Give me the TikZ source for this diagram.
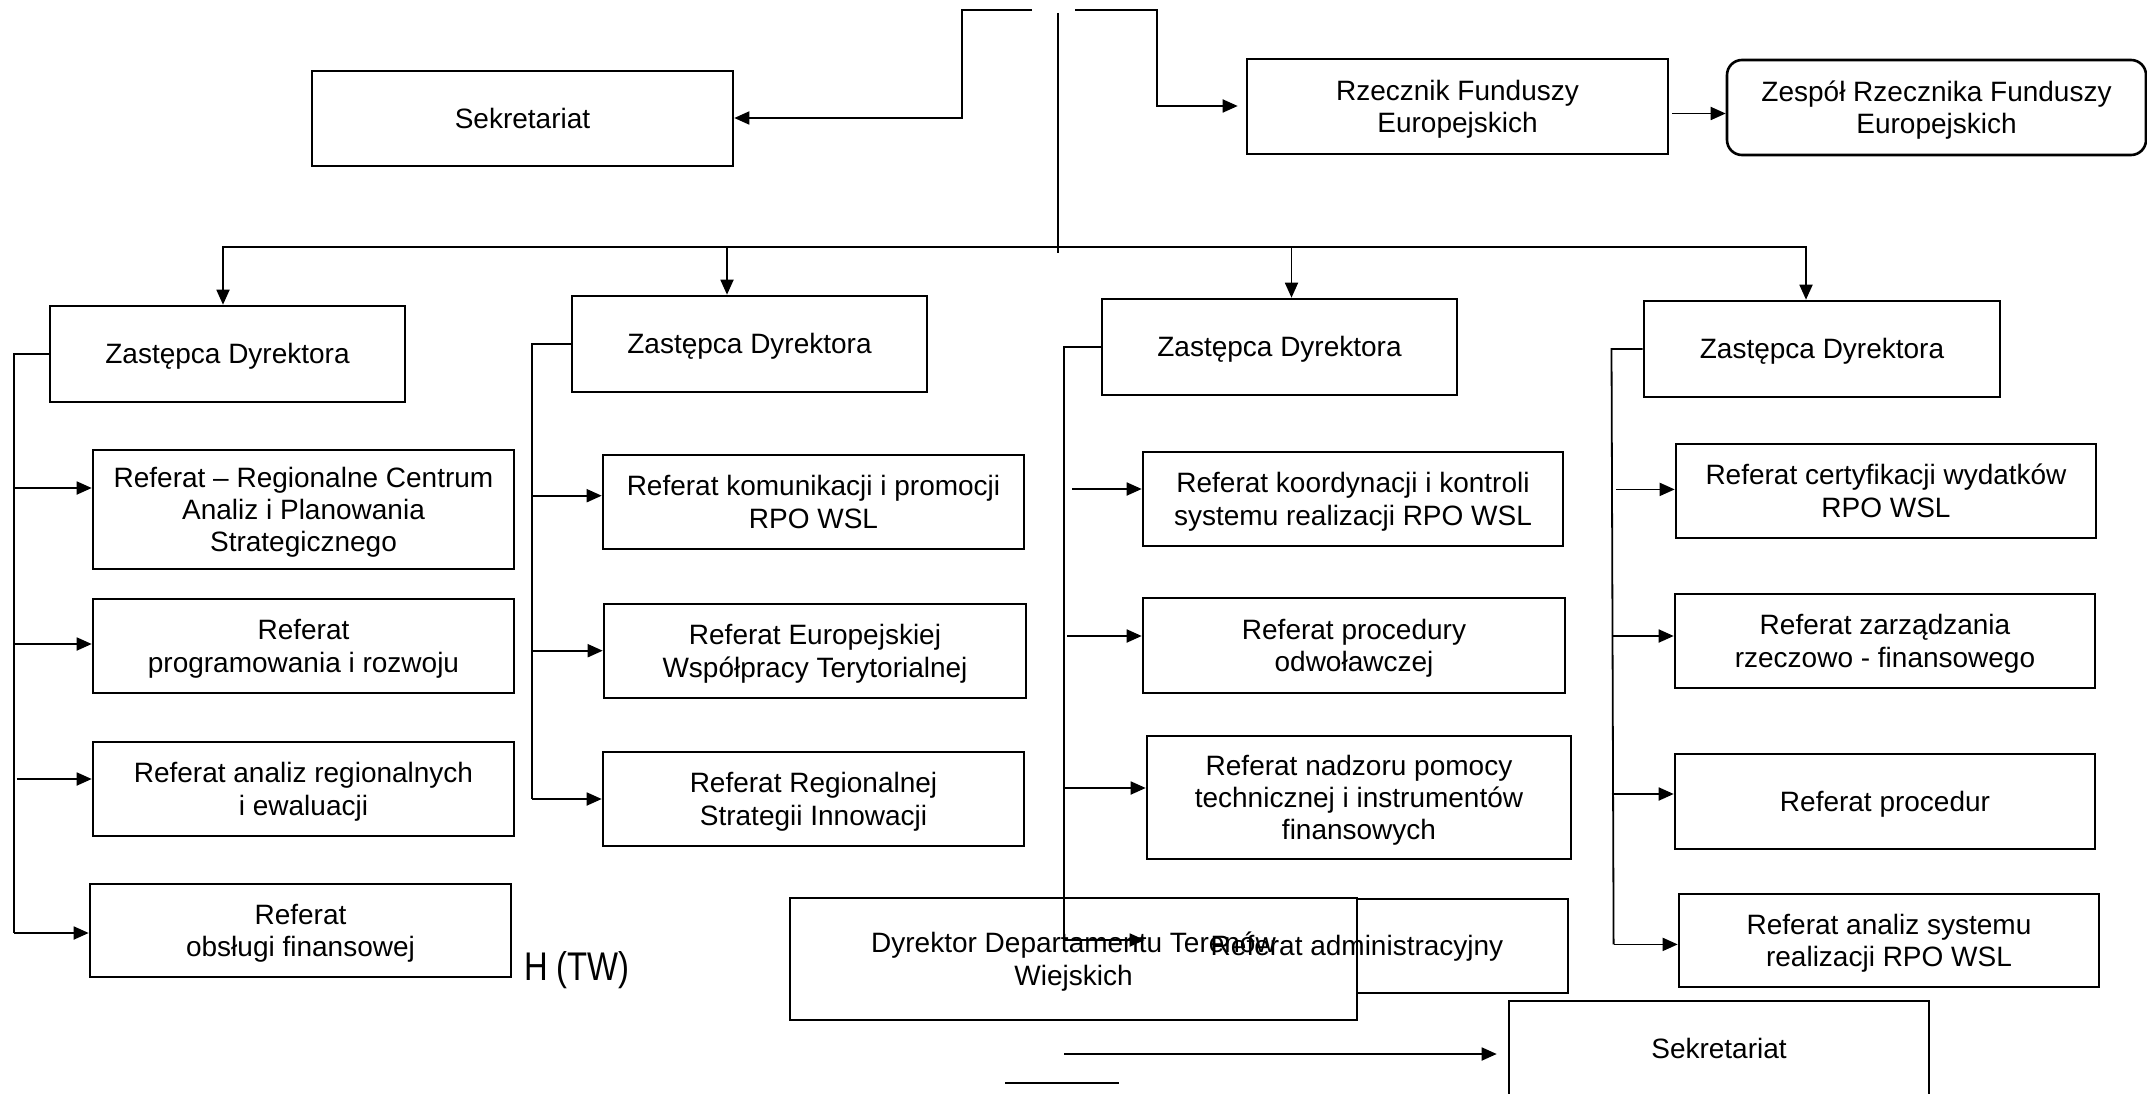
\documentclass[tikz,border=0pt]{standalone}
\usepackage{fontspec}
\setmainfont{Liberation Sans}
\usetikzlibrary{arrows.meta}
\tikzset{
  box/.style={draw, line width=2.6pt, fill=white, inner sep=0pt, align=center,
    text depth=0.5pt, font=\fontsize{28}{32.3}\selectfont},
  conn/.style={line width=1.8pt},
  arr/.style={conn, -{Triangle[length=15pt,width=13pt]}},
}
\begin{document}
\begin{tikzpicture}[x=1pt,y=-1pt]
\useasboundingbox (0,0) rectangle (2147,1094);
\clip (0,0) rectangle (2147,1094);

% partly hidden title text
\node[anchor=base west, inner sep=0pt, xscale=0.82, font=\fontsize{40}{48}\selectfont] (tw) at (524,980) {H (TW)};

% top row
\node[box, minimum width=421pt, minimum height=95pt] (Sek1) at (522.5,118.5) {Sekretariat};
\node[box, minimum width=421pt, minimum height=95pt] (Rz) at (1457.5,106.5) {Rzecznik Funduszy\\Europejskich};
\node[box, rounded corners=15pt, minimum width=419pt, minimum height=95pt] (Zes) at (1936.5,107.5) {Zespół Rzecznika Funduszy\\Europejskich};

% deputies
\node[box, minimum width=355pt, minimum height=96pt] (Z1) at (227.5,354) {Zastępca Dyrektora};
\node[box, minimum width=355pt, minimum height=96pt] (Z2) at (749.5,344) {Zastępca Dyrektora};
\node[box, minimum width=355pt, minimum height=96pt] (Z3) at (1279.5,347) {Zastępca Dyrektora};
\node[box, minimum width=356pt, minimum height=96pt] (Z4) at (1822,349) {Zastępca Dyrektora};

% column 1
\node[box, minimum width=421pt, minimum height=119pt] (R1) at (303.5,509.5) {Referat – Regionalne Centrum\\Analiz i Planowania\\Strategicznego};
\node[box, minimum width=421pt, minimum height=94pt] (R2) at (303.5,646) {Referat\\programowania i rozwoju};
\node[box, minimum width=421pt, minimum height=94pt] (R3) at (303.5,789) {Referat analiz regionalnych\\i ewaluacji};
\node[box, minimum width=421pt, minimum height=93pt] (R4) at (300.5,930.5) {Referat\\obsługi finansowej};

% column 2
\node[box, minimum width=421pt, minimum height=94pt] (K1) at (813.5,502) {Referat komunikacji i promocji\\RPO WSL};
\node[box, minimum width=422pt, minimum height=94pt] (K2) at (815,651) {Referat Europejskiej\\Współpracy Terytorialnej};
\node[box, minimum width=421pt, minimum height=94pt] (K3) at (813.5,799) {Referat Regionalnej\\Strategii Innowacji};

% column 3
\node[box, minimum width=420pt, minimum height=94pt] (P1) at (1353,499) {Referat koordynacji i kontroli\\systemu realizacji RPO WSL};
\node[box, minimum width=422pt, minimum height=95pt] (P2) at (1354,645.5) {Referat procedury\\odwoławczej};
\node[box, minimum width=424pt, minimum height=123pt] (P3) at (1359,797.5) {Referat nadzoru pomocy\\technicznej i instrumentów\\finansowych};
\node[box, minimum width=422pt, minimum height=94pt] (P4) at (1357,946) {};

% column 4
\node[box, minimum width=420pt, minimum height=94pt] (Q1) at (1886,491) {Referat certyfikacji wydatków\\RPO WSL};
\node[box, minimum width=420pt, minimum height=94pt] (Q2) at (1885,641) {Referat zarządzania\\rzeczowo - finansowego};
\node[box, minimum width=420pt, minimum height=95pt] (Q3) at (1885,801.5) {Referat procedur};
\node[box, minimum width=420pt, minimum height=93pt] (Q4) at (1889,940.5) {Referat analiz systemu\\realizacji RPO WSL};

% bottom
\node[box, minimum width=567pt, minimum height=122pt] (Dyr) at (1073.5,959) {Dyrektor Departamentu Terenów\\Wiejskich};
\node[inner sep=0pt, text depth=0.5pt, font=\fontsize{28}{32.3}\selectfont] (P4text) at (P4.center) {Referat administracyjny};
\node[box, minimum width=420pt, minimum height=95pt] (Sek2) at (1719,1048.5) {Sekretariat};

% coordinates
\coordinate (trTop) at (1058,13);
\coordinate (trBot) at (1058,253);
\coordinate (tlS) at (1032,10);
\coordinate (tlK) at (962,118);
\coordinate (trS) at (1075,10);
\coordinate (trK) at (1157,106);
\coordinate (rzA) at (1672,113.5);
\coordinate (busL) at (222,247);
\coordinate (busR) at (1807,247);
\coordinate (d1) at (223,247);
\coordinate (d2) at (727,247);
\coordinate (d3) at (1291.5,247);
\coordinate (d4) at (1806,247);
\coordinate (c1b) at (13.7,933);
\coordinate (a11) at (14,488);
\coordinate (a12) at (14,644);
\coordinate (a13) at (16.8,779);
\coordinate (c2b) at (532,799);
\coordinate (a21) at (532,495.7);
\coordinate (a22) at (532,650.7);
\coordinate (c3b) at (1064,940);
\coordinate (a31) at (1072,489);
\coordinate (a32) at (1067,636);
\coordinate (a33) at (1064,788);
\coordinate (c4t) at (1611.5,349);
\coordinate (c4b) at (1613.6,944.4);
\coordinate (a41) at (1616,489.4);
\coordinate (a42) at (1611.5,636);
\coordinate (a43) at (1611.5,794);
\coordinate (ba) at (1064,1054);
\coordinate (sl1) at (1005,1083);
\coordinate (sl2) at (1119,1083);

% connectors
\draw[conn] (trTop) -- (trBot);
\draw[arr] (tlS) -| (tlK) -- (tlK -| Sek1.east);
\draw[arr, shorten >=8pt] (trS) -| (trK) -- (trK -| Rz.west);
\draw[arr] (rzA) -- (rzA -| Zes.west);
\draw[conn] (busL) -- (busR);
\draw[arr] (d1) -- (d1 |- Z1.north);
\draw[arr] (d2) -- (d2 |- Z2.north);
\draw[arr] (d3) -- (d3 |- Z3.north);
\draw[arr] (d4) -- (d4 |- Z4.north);

\draw[conn] (Z1.west) -| (c1b);
\draw[arr] (a11) -- (a11 -| R1.west);
\draw[arr] (a12) -- (a12 -| R2.west);
\draw[arr] (a13) -- (a13 -| R3.west);
\draw[arr] (c1b) -- (c1b -| R4.west);

\draw[conn] (Z2.west) -| (c2b);
\draw[arr] (a21) -- (a21 -| K1.west);
\draw[arr] (a22) -- (a22 -| K2.west);
\draw[arr] (c2b) -- (c2b -| K3.west);

\draw[conn] (Z3.west) -| (c3b);
\draw[arr] (a31) -- (a31 -| P1.west);
\draw[arr] (a32) -- (a32 -| P2.west);
\draw[arr] (a33) -- (a33 -| P3.west);
\draw[arr] (c3b) -- (c3b -| P4.west);

\draw[conn] (Z4.west) -- (c4t) -- (c4b);
\draw[arr] (a41) -- (a41 -| Q1.west);
\draw[arr] (a42) -- (a42 -| Q2.west);
\draw[arr] (a43) -- (a43 -| Q3.west);
\draw[arr] (c4b) -- (c4b -| Q4.west);

\draw[arr, shorten >=11pt] (ba) -- (ba -| Sek2.west);
\draw[conn] (sl1) -- (sl2);
\end{tikzpicture}
\end{document}
